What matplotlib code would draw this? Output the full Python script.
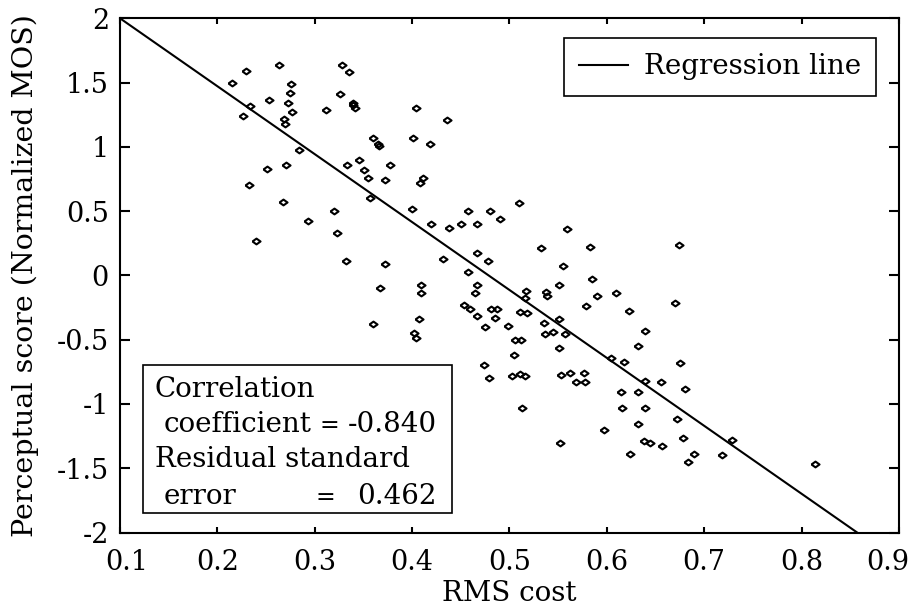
import matplotlib
matplotlib.use("Agg")
import matplotlib.pyplot as plt
from matplotlib.patches import Rectangle
from matplotlib.transforms import ScaledTranslation

# ---- data ----
rms_cost = [
    0.215, 0.229, 0.226, 0.234, 0.232, 0.240, 0.251, 0.253, 0.263, 0.267,
    0.270, 0.268, 0.269, 0.273, 0.275, 0.276, 0.277, 0.284, 0.293, 0.312,
    0.320, 0.323, 0.326, 0.328, 0.335, 0.332, 0.333, 0.339, 0.339, 0.341,
    0.345, 0.351, 0.355, 0.357, 0.360, 0.360, 0.365, 0.366, 0.367, 0.372,
    0.372, 0.377, 0.400, 0.401, 0.404, 0.402, 0.404, 0.408, 0.411, 0.409,
    0.409, 0.407, 0.418, 0.419, 0.436, 0.432, 0.438, 0.450, 0.453, 0.457,
    0.457, 0.459, 0.465, 0.467, 0.467, 0.467, 0.467, 0.475, 0.474, 0.478,
    0.479, 0.480, 0.481, 0.487, 0.485, 0.490, 0.498, 0.503, 0.505, 0.506,
    0.510, 0.511, 0.512, 0.513, 0.511, 0.516, 0.516, 0.517, 0.518, 0.532,
    0.535, 0.536, 0.537, 0.538, 0.545, 0.551, 0.551, 0.551, 0.553, 0.552,
    0.555, 0.559, 0.557, 0.562, 0.568, 0.576, 0.578, 0.579, 0.583, 0.585,
    0.590, 0.597, 0.604, 0.609, 0.615, 0.616, 0.618, 0.623, 0.624, 0.632,
    0.632, 0.632, 0.639, 0.639, 0.639, 0.638, 0.644, 0.657, 0.656, 0.670,
    0.672, 0.674, 0.675, 0.678, 0.680, 0.683, 0.689, 0.718, 0.729, 0.814,
]
perceptual_score = [
    1.50, 1.59, 1.24, 1.32, 0.70, 0.27, 0.83, 1.365, 1.64, 0.57,
    0.86, 1.22, 1.18, 1.34, 1.42, 1.49, 1.27, 0.975, 0.425, 1.29,
    0.50, 0.33, 1.41, 1.64, 1.58, 0.11, 0.86, 1.345, 1.325, 1.30,
    0.90, 0.82, 0.76, 0.60, 1.07, -0.375, 1.025, 1.01, -0.10, 0.74,
    0.085, 0.86, 0.52, 1.07, 1.30, -0.45, -0.49, 0.715, 0.755, -0.075,
    -0.137, -0.337, 1.02, 0.40, 1.21, 0.13, 0.365, 0.40, -0.23, 0.50,
    0.03, -0.26, -0.137, 0.40, 0.175, -0.077, -0.313, -0.398, -0.697, 0.113,
    -0.797, 0.50, -0.259, -0.259, -0.328, 0.437, -0.392, -0.78, -0.618, -0.506,
    0.567, -0.286, -0.503, -1.032, -0.765, -0.78, -0.177, -0.12, -0.295, 0.21,
    -0.367, -0.452, -0.131, -0.162, -0.443, -0.074, -0.343, -0.564, -0.776, -1.305,
    0.077, 0.358, -0.455, -0.763, -0.833, -0.763, -0.833, -0.237, 0.219, -0.028,
    -0.162, -1.202, -0.643, -0.137, -0.906, -1.029, -0.673, -0.274, -1.386, -0.552,
    -0.906, -1.153, -0.434, -0.824, -1.035, -1.29, -1.305, -1.326, -0.827, -0.216,
    -1.12, 0.237, -0.679, -1.265, -0.887, -1.453, -1.386, -1.395, -1.283, -1.471,
]
regression_x = [0.1, 0.857]
regression_y = [2.0, -2.0]

x_ticks = [0.1, 0.2, 0.3, 0.4, 0.5, 0.6, 0.7, 0.8, 0.9]
x_tick_labels = ["0.1", "0.2", "0.3", "0.4", "0.5", "0.6", "0.7", "0.8", "0.9"]
y_ticks = [-2, -1.5, -1, -0.5, 0, 0.5, 1, 1.5, 2]
y_tick_labels = ["-2", "-1.5", "-1", "-0.5", "0", "0.5", "1", "1.5", "2"]

stats_lines = [("Correlation", None, None),
               ("coefficient", "=", "-0.840"),
               ("Residual standard", None, None),
               ("error", "=", "0.462")]

# ---- figure ----
plt.rcParams['font.family'] = ['DejaVu Serif']
FS = 20

fig = plt.figure(figsize=(9.12, 6.11), dpi=100)
W, H = 912, 611
ax = fig.add_axes([120 / W, 1 - 532.5 / H, 779 / W, 514.2 / H])

diamond = [(-1, 0), (0, 0.72), (1, 0), (0, -0.72), (-1, 0)]
ax.plot(rms_cost, perceptual_score, linestyle='none', marker=diamond,
        markersize=5.8, markerfacecolor='none', markeredgecolor='black',
        markeredgewidth=1.5)
line, = ax.plot(regression_x, regression_y, color='black', lw=1.5,
                label='Regression line')

ax.set_xlim(0.1, 0.9)
ax.set_ylim(-2, 2)
ax.set_xticks(x_ticks)
ax.set_xticklabels(x_tick_labels)
ax.set_yticks(y_ticks)
ax.set_yticklabels(y_tick_labels)
for s in ax.spines.values():
    s.set_linewidth(1.5)
ax.tick_params(axis='both', direction='in', top=True, right=True,
               labelsize=19.5, width=1.5)
ax.tick_params(axis='x', length=4.5, pad=12)
ax.tick_params(axis='y', length=7, pad=8)

# edge tick labels nudged inward as in the reference
xlabels = ax.get_xticklabels()
xlabels[0].set_transform(xlabels[0].get_transform() +
                         ScaledTranslation(7 / 100, 0, fig.dpi_scale_trans))
xlabels[-1].set_transform(xlabels[-1].get_transform() +
                          ScaledTranslation(-11 / 100, 0, fig.dpi_scale_trans))

ax.set_xlabel('RMS cost', fontsize=FS)
ax.xaxis.set_label_coords(0.5, -0.092)
ax.set_ylabel('Perceptual score (Normalized MOS)', fontsize=20.5)
ax.yaxis.label.set_va('center')
ax.yaxis.set_label_coords(-0.122, 0.5)

leg = ax.legend(handles=[line], loc='upper right',
                bbox_to_anchor=(0.9705, 0.9617), borderaxespad=0,
                fontsize=FS, fancybox=False, framealpha=1,
                edgecolor='black', handlelength=1.75, handletextpad=0.58,
                borderpad=0.55)
leg.get_frame().set_linewidth(1.2)

# stats box
ax.add_patch(Rectangle((0.0295, 0.0379), 0.4262 - 0.0295, 0.3257 - 0.0379,
                       transform=ax.transAxes, facecolor='white',
                       edgecolor='black', lw=1.2, zorder=5))
baselines = [0.2641, 0.1955, 0.1274, 0.0554]
lefts = [0.0449, 0.0556, 0.0449, 0.0556]
eq_x = [None, 0.269, None, 0.263]
for (txt, eq, val), yb, xl, xe in zip(stats_lines, baselines, lefts, eq_x):
    ax.text(xl, yb, txt, transform=ax.transAxes, fontsize=FS,
            va='baseline', ha='left', zorder=6)
    if eq is not None:
        ax.text(xe, yb, eq, transform=ax.transAxes, fontsize=17,
                va='baseline', ha='center', zorder=6)
        ax.text(0.407, yb, val, transform=ax.transAxes, fontsize=FS,
                va='baseline', ha='right', zorder=6)

fig.savefig('out.png', dpi=100)
